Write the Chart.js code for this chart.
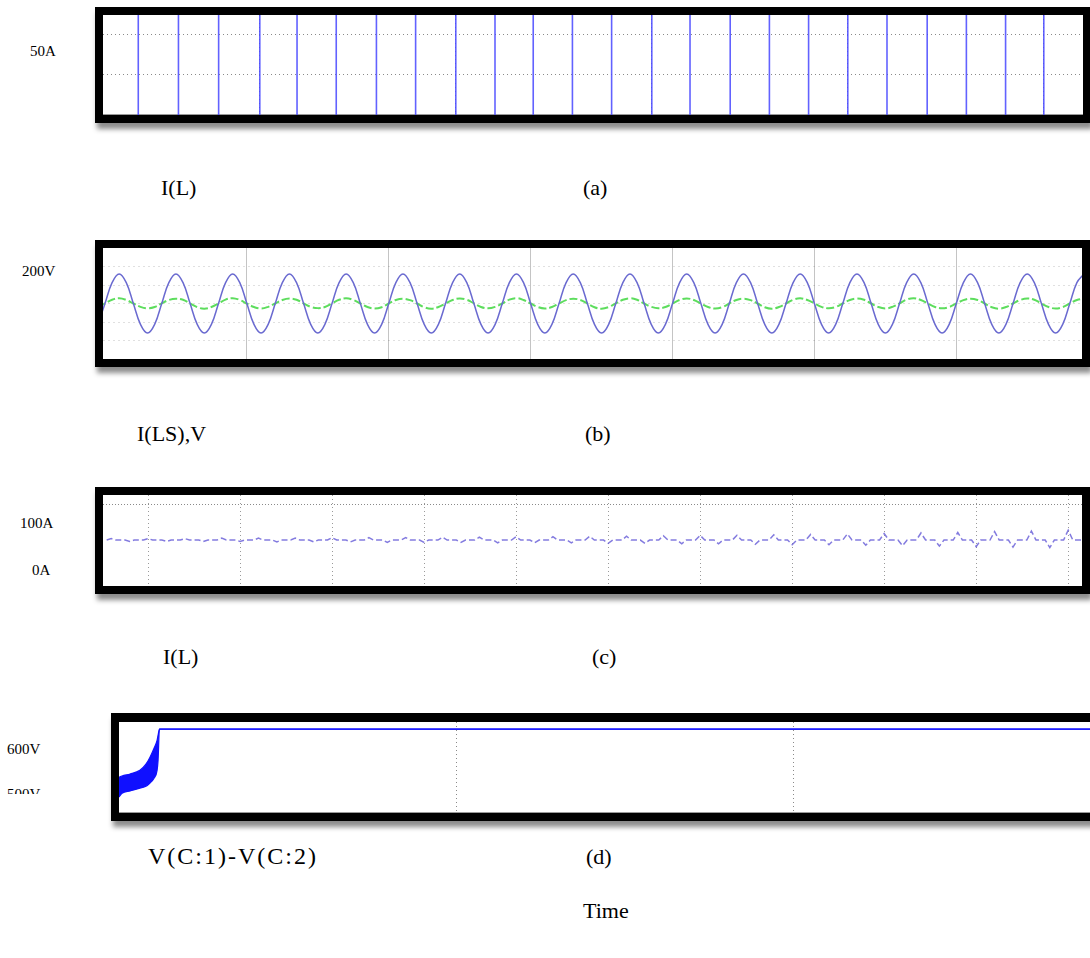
<!DOCTYPE html>
<html><head><meta charset="utf-8">
<script src="https://cdn.jsdelivr.net/npm/chart.js@4.4.1/dist/chart.umd.min.js"></script>
<style>
html,body{margin:0;padding:0;background:#fff;}
body{width:1090px;height:958px;overflow:hidden;position:relative;font-family:"Liberation Serif","Times New Roman",serif;color:#000;}
.frame{position:absolute;border:8px solid #000;background:#fff;box-shadow:2px 6px 5px rgba(0,0,0,0.45);}
.frame canvas{display:block;}
.t{position:absolute;white-space:nowrap;line-height:1;}
.s{font-size:15px;}
.b{font-size:22px;}
.clip{position:absolute;overflow:hidden;}
</style></head><body>

<div class="frame" style="left:95px;top:7px;"><canvas id="ca" width="980" height="100"></canvas></div>
<div class="frame" style="left:95px;top:240px;"><canvas id="cb" width="979" height="111"></canvas></div>
<div class="frame" style="left:95px;top:487px;"><canvas id="cc" width="979" height="91"></canvas></div>
<div class="frame" style="left:111px;top:713px;border-top-width:9px;"><canvas id="cd" width="1011" height="91"></canvas></div>

<div class="t s" style="left:30px;top:44px;">50A</div>
<div class="t b" style="left:161px;top:177px;">I(L)</div>
<div class="t b" style="left:583px;top:177px;">(a)</div>

<div class="t s" style="left:22px;top:264px;">200V</div>
<div class="t b" style="left:137px;top:423px;">I(LS),V</div>
<div class="t b" style="left:585px;top:423px;">(b)</div>

<div class="t s" style="left:20px;top:516px;">100A</div>
<div class="t s" style="left:32px;top:563px;">0A</div>
<div class="t b" style="left:163px;top:646px;">I(L)</div>
<div class="t b" style="left:592px;top:646px;">(c)</div>

<div class="t s" style="left:7px;top:742px;">600V</div>
<div class="clip" style="left:7px;top:789px;width:40px;height:5px;"><div class="t s" style="left:0;top:-2px;">500V</div></div>
<div class="t b" style="left:148px;top:844px;font-size:24px;letter-spacing:2px;">V(C:1)-V(C:2)</div>
<div class="t b" style="left:586px;top:846px;">(d)</div>

<div class="t b" style="left:583px;top:900px;">Time</div>

<script>
// ---------- (a) I(L): switching spikes ----------
const spikeTimesA = [1.8, 3.85, 5.9, 8, 9.9, 11.9, 13.95, 15.95, 18, 20, 21.95, 23.95, 25.95, 28, 29.95, 32, 34, 36, 38, 40, 42.05, 44.05, 46.05, 48];
const spikeLowA = -51;
const spikeHighA = 74;
const gridXA = [8, 18, 28, 38, 48];
const gridYA = [0, 50];

// ---------- (b) I(LS), V ----------
const tB = [-2.5,0,2.5,5,7.5,10,12.5,15,17.5,
 20,22.5,25,27.5,30,32.5,35,37.5,
 40,42.5,45,47.5,50,52.5,55,57.5,
 60,62.5,65,67.5,70,72.5,75,77.5,
 80,82.5,85,87.5,90,92.5,95,97.5,
 100,102.5,105,107.5,110,112.5,115,117.5,
 120,122.5,125,127.5,130,132.5,135,137.5,
 140,142.5,145,147.5,150,152.5,155,157.5,
 160,162.5,165,167.5,170,172.5,175,177.5,
 180,182.5,185,187.5,190,192.5,195,197.5,
 200,202.5,205,207.5,210,212.5,215,217.5,
 220,222.5,225,227.5,230,232.5,235,237.5,
 240,242.5,245,247.5,250,252.5,255,257.5,
 260,262.5,265,267.5,270,272.5,275,277.5,
 280,282.5,285,287.5,290,292.5,295,297.5,
 300,302.5,305,307.5,310,312.5,315,317.5,
 320,322.5,325,327.5,330,332.5,335,337.5,
 340,342.5,345];
const voltB = [-113,
 0,113,160,113,0,-113,-160,-113,
 0,113,160,113,0,-113,-160,-113,
 0,113,160,113,0,-113,-160,-113,
 0,113,160,113,0,-113,-160,-113,
 0,113,160,113,0,-113,-160,-113,
 0,113,160,113,0,-113,-160,-113,
 0,113,160,113,0,-113,-160,-113,
 0,113,160,113,0,-113,-160,-113,
 0,113,160,113,0,-113,-160,-113,
 0,113,160,113,0,-113,-160,-113,
 0,113,160,113,0,-113,-160,-113,
 0,113,160,113,0,-113,-160,-113,
 0,113,160,113,0,-113,-160,-113,
 0,113,160,113,0,-113,-160,-113,
 0,113,160,113,0,-113,-160,-113,
 0,113,160,113,0,-113,-160,-113,
 0,113,160,113,0,-113,-160,-113,
 0,113,160];
const currB = [-19,
 0,20,28,19,0,-18,-26,-19,
 1,19,26,20,0,-20,-28,-19,
 0,21,29,19,-1,-19,-27,-18,
 0,19,27,20,0,-18,-25,-19,
 1,20,28,19,0,-19,-27,-20,
 0,19,26,18,0,-20,-28,-19,
 0,19,27,20,1,-19,-26,-18,
 0,21,29,19,0,-19,-27,-19,
 0,18,26,19,0,-20,-28,-19,
 1,20,28,20,0,-18,-26,-19,
 0,19,27,19,0,-19,-27,-20,
 0,19,26,18,0,-20,-28,-19,
 0,20,28,19,1,-18,-26,-19,
 0,19,27,20,0,-19,-27,-18,
 1,21,29,19,0,-19,-26,-19,
 0,18,26,19,0,-20,-28,-19,
 0,19,27,20,0,-19,-27,-19,
 0,19,27];
const gridXB = [50, 100, 150, 200, 250, 300];
const gridYB = [-200, -100, 0, 100, 200];

// ---------- (c) I(L) ----------
const tC = [5.5,
 6,6.5,7.5,8,8.5,9.5,
 10,10.5,11.5,12,12.5,13.5,
 14,14.5,15.5,16,16.5,17.5,
 18,18.5,19.5,20,20.5,21.5,
 22,22.5,23.5,24,24.5,25.5,
 26,26.5,27.5,28,28.5,29.5,
 30,30.5,31.5,32,32.5,33.5,
 34,34.5,35.5,36,36.5,37.5,
 38,38.5,39.5,40,40.5,41.5,
 42,42.5,43.5,44,44.5,45.5,
 46,46.5,47.5,48,48.5,49.5,
 50,50.5,51.5,52,52.5,53.5,
 54,54.5,55.5,56,56.5,57.5,
 58,58.5,59.5,60,60.5,61.5,
 62,62.5,63.5,64,64.5,65.5,
 66,66.5,67.5,68,68.5,69.5,
 70,70.5,71.5,72,72.5,73.5,
 74,74.5,75.5,76,76.5,77.5,
 78,78.5,79.5,80,80.5,81.5,
 82,82.5,83.5,84,84.5,85.5,
 86,86.5,87.5,88,88.5,89.5,
 90,90.5,91.5,92,92.5,93.5,
 94,94.5,95.5,96,96.5,97.5,
 98,98.5,99.5,100,100.5,101.5,
 102,102.5,103.5,104,104.5,105.5,
 106,106.5,107.5,108,108.5,109.5,
 110,110.5,111.5];
const currC = [64,
 67,64,64,61,64,64,
 67,64,64,61,64,64,
 67,64,64,61,64,64,
 68,64,64,61,64,64,
 68,64,64,60,64,64,
 68,64,64,60,64,64,
 69,64,64,60,64,64,
 69,64,64,59,64,64,
 69,64,64,59,64,64,
 70,64,64,59,64,64,
 70,64,64,58,64,64,
 71,64,64,58,64,64,
 71,64,64,58,64,64,
 72,64,64,57,64,64,
 72,64,64,57,64,64,
 73,64,64,56,64,64,
 74,64,64,56,64,64,
 74,64,64,55,64,64,
 75,64,64,54,64,64,
 76,64,64,54,64,64,
 77,64,64,53,64,64,
 78,64,64,52,64,64,
 79,64,64,51,64,64,
 80,64,64,50,64,64,
 82,64,64,49,64,64,
 83,64,64,48,64,64,
 85,64,64];
const gridXC = [10, 20, 30, 40, 50, 60, 70, 80, 90, 100, 110];
const gridYC = [140];

// ---------- (d) V(C:1)-V(C:2) ----------
const tD = [0, 0.009, 0.033, 0.062, 0.080, 0.092, 0.104, 0.113, 0.116, 0.12, 0.5, 1.0, 1.5, 2.0, 2.5, 3.0];
const upperD = [542, 545, 549, 557, 570, 585, 604, 621, 632, 645, 645, 645, 645, 645, 645, 645];
const lowerD = [500, 508, 513, 519, 523, 530, 540, 557, 579, 645, 645, 645, 645, 645, 645, 645];
const gridXD = [1, 2];

// ---------- helpers ----------
function pts(xs, ys) { return xs.map((x, i) => ({x: x, y: ys[i]})); }
function axis(min, max, grid, g) {
  return {
    type: 'linear', min: min, max: max,
    ticks: {display: false},
    grid: {display: true, drawTicks: false, color: g.color, lineWidth: g.width || 1},
    border: {display: !!g.border, color: g.border || '#999', width: g.borderWidth || 2, dash: g.dash || []},
    afterBuildTicks: s => { s.ticks = grid.map(v => ({value: v})); }
  };
}
function make(id, datasets, xs, ys) {
  return new Chart(document.getElementById(id), {
    type: 'scatter',
    data: {datasets: datasets},
    options: {
      responsive: false, animation: false, maintainAspectRatio: false,
      layout: {padding: 0},
      plugins: {legend: {display: false}, tooltip: {enabled: false}},
      elements: {point: {radius: 0, hoverRadius: 0}},
      scales: {x: xs, y: ys}
    }
  });
}

// (a)
const spikePts = [];
spikeTimesA.forEach(t => { spikePts.push({x: t, y: spikeLowA}, {x: t, y: spikeHighA}, {x: t, y: null}); });
make('ca', [{data: spikePts, showLine: true, spanGaps: false, borderColor: 'rgba(70,70,255,0.85)', borderWidth: 1.6, tension: 0}],
  axis(0, 50, gridXA, {color: '#9a9a9a', dash: [1, 3], border: '#9a9a9a', borderWidth: 2}),
  axis(-51, 74, gridYA, {color: '#8a8a8a', dash: [1, 3]}));

// (b)
make('cb', [
  {data: pts(tB, voltB), showLine: true, borderColor: '#6a6ad0', borderWidth: 1.5, tension: 0.4},
  {data: pts(tB, currB), showLine: true, borderColor: '#5ddd5d', borderWidth: 2, borderDash: [8, 3], tension: 0.4}
 ],
  axis(-0.7, 344.3, gridXB, {color: '#c4c4c4', width: 1}),
  axis(-300, 300, gridYB, {color: 'rgba(0,0,0,0.12)', dash: [2, 3]}));

// (c)
make('cc', [{data: pts(tC, currC), showLine: true, borderColor: 'rgba(100,90,215,0.8)', borderWidth: 1.5, borderDash: [6, 3], tension: 0}],
  axis(5.1, 111.5, gridXC, {color: '#9a9a9a', dash: [1, 3]}),
  axis(-34, 160, gridYC, {color: '#8a8a8a', dash: [1, 2]}));

// (d)
make('cd', [
  {data: pts(tD, upperD), showLine: true, borderColor: '#1010ff', borderWidth: 1.2, cubicInterpolationMode: 'monotone'},
  {data: pts(tD, lowerD), showLine: true, borderColor: '#1010ff', borderWidth: 1.2, cubicInterpolationMode: 'monotone', fill: '-1', backgroundColor: '#1010ff'}
 ],
  axis(0, 3, gridXD, {color: '#8a8a8a', dash: [1, 3], border: '#9a9a9a', borderWidth: 2}),
  axis(466, 660, [], {color: '#999'}));
</script>
</body></html>
